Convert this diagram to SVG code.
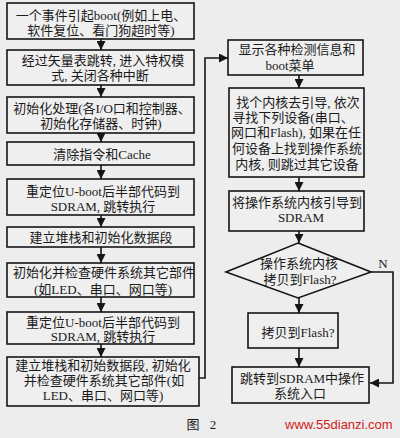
<svg xmlns="http://www.w3.org/2000/svg" width="400" height="438" viewBox="0 0 400 438">
<defs>
<style>
.bg{fill:#ededed}
.box{fill:#efefef;stroke:#151515;stroke-width:1.6}
.ln{fill:none;stroke:#151515;stroke-width:1.6}
.t{font-family:"Liberation Serif","Noto Sans CJK SC",serif;font-size:13px;fill:#1a1a1a;text-anchor:middle}
.wm{font-family:"Liberation Sans",Arial,sans-serif;font-size:13px;fill:#d42020}
</style>
<marker id="ah" viewBox="0 0 10 10" refX="10" refY="5" markerWidth="9" markerHeight="9" markerUnits="userSpaceOnUse" orient="auto">
<path d="M0,0 L10,5 L0,10 z" fill="#151515"/>
</marker>
</defs>
<rect class="bg" x="0" y="0" width="400" height="438"/>

<g id="connectors">
<line class="ln" x1="101" y1="39" x2="101" y2="50" marker-end="url(#ah)"/>
<line class="ln" x1="101" y1="85" x2="101" y2="97" marker-end="url(#ah)"/>
<line class="ln" x1="101" y1="133" x2="101" y2="142" marker-end="url(#ah)"/>
<line class="ln" x1="101" y1="165" x2="101" y2="179" marker-end="url(#ah)"/>
<line class="ln" x1="101" y1="215" x2="101" y2="227" marker-end="url(#ah)"/>
<line class="ln" x1="101" y1="247" x2="101" y2="263" marker-end="url(#ah)"/>
<line class="ln" x1="101" y1="297" x2="101" y2="312" marker-end="url(#ah)"/>
<line class="ln" x1="101" y1="344" x2="101" y2="357" marker-end="url(#ah)"/>
<polyline class="ln" points="199,378 205,378 205,58 228,58" marker-end="url(#ah)"/>
<line class="ln" x1="299" y1="75" x2="299" y2="88" marker-end="url(#ah)"/>
<line class="ln" x1="299" y1="177" x2="299" y2="191" marker-end="url(#ah)"/>
<line class="ln" x1="299" y1="231" x2="299" y2="243" marker-end="url(#ah)"/>
<line class="ln" x1="299" y1="298" x2="299" y2="313" marker-end="url(#ah)"/>
<line class="ln" x1="299" y1="348" x2="299" y2="367" marker-end="url(#ah)"/>
<polyline class="ln" points="371,272 393,272 393,383 370,383" marker-end="url(#ah)"/>
<text class="t" x="383" y="268">N</text>
</g>

<g id="n1">
<rect class="box" x="7" y="3" width="187" height="36"/>
<text class="t" x="101" y="20">一个事件引起boot(例如上电、</text>
<text class="t" x="101" y="35">软件复位、看门狗超时等)</text>
</g>
<g id="n2">
<rect class="box" x="7" y="50" width="187" height="35"/>
<text class="t" x="103" y="65">经过矢量表跳转, 进入特权模</text>
<text class="t" x="100" y="80">式, 关闭各种中断</text>
</g>
<g id="n3">
<rect class="box" x="7" y="97" width="187" height="36"/>
<text class="t" x="102" y="113">初始化处理(各I/O口和控制器、</text>
<text class="t" x="101" y="128">初始化存储器、时钟)</text>
</g>
<g id="n4">
<rect class="box" x="7" y="142" width="187" height="23"/>
<text class="t" x="102" y="159">清除指令和Cache</text>
</g>
<g id="n5">
<rect class="box" x="7" y="179" width="187" height="36"/>
<text class="t" x="103" y="196">重定位U-boot后半部代码到</text>
<text class="t" x="103" y="211">SDRAM, 跳转执行</text>
</g>
<g id="n6">
<rect class="box" x="7" y="227" width="187" height="20"/>
<text class="t" x="101" y="242">建立堆栈和初始化数据段</text>
</g>
<g id="n7">
<rect class="box" x="7" y="263" width="187" height="34"/>
<text class="t" x="104" y="277">初始化并检查硬件系统其它部件</text>
<text class="t" x="103" y="294">(如LED、串口、网口等)</text>
</g>
<g id="n8">
<rect class="box" x="7" y="312" width="187" height="32"/>
<text class="t" x="103" y="327">重定位U-boot后半部代码到</text>
<text class="t" x="103" y="341">SDRAM, 跳转执行</text>
</g>
<g id="n9">
<rect class="box" x="7" y="357" width="192" height="49"/>
<text class="t" x="103" y="370">建立堆栈和初始数据段, 初始化</text>
<text class="t" x="104" y="385">并检查硬件系统其它部件(如</text>
<text class="t" x="103" y="400">LED、串口、网口等)</text>
</g>

<g id="r1">
<rect class="box" x="228" y="40" width="135" height="35"/>
<text class="t" x="297" y="54">显示各种检测信息和</text>
<text class="t" x="290" y="70">boot菜单</text>
</g>
<g id="r2">
<rect class="box" x="229" y="88" width="135" height="89"/>
<text class="t" x="298" y="107">找个内核去引导, 依次</text>
<text class="t" x="293" y="122">寻找下列设备(串口、</text>
<text class="t" x="296" y="137">网口和Flash), 如果在任</text>
<text class="t" x="297" y="153">何设备上找到操作系统</text>
<text class="t" x="297" y="169">内核, 则跳过其它设备</text>
</g>
<g id="r3">
<rect class="box" x="229" y="191" width="135" height="40"/>
<text class="t" x="297" y="207">将操作系统内核引导到</text>
<text class="t" x="301" y="222">SDRAM</text>
</g>
<g id="r4">
<polygon class="box" points="298,243 371,272 298,298 226,272"/>
<text class="t" x="299" y="268">操作系统内核</text>
<text class="t" x="300" y="284">拷贝到Flash?</text>
</g>
<g id="r5">
<rect class="box" x="248" y="313" width="90" height="35"/>
<text class="t" x="298" y="337">拷贝到Flash?</text>
</g>
<g id="r6">
<rect class="box" x="232" y="367" width="137" height="36"/>
<text class="t" x="302" y="383">跳转到SDRAM中操作</text>
<text class="t" x="300" y="398">系统入口</text>
</g>

<text class="t" x="193" y="429">图</text>
<text class="t" x="213" y="429">2</text>
<text class="wm" x="285" y="429">www.55dianzi.com</text>
</svg>
